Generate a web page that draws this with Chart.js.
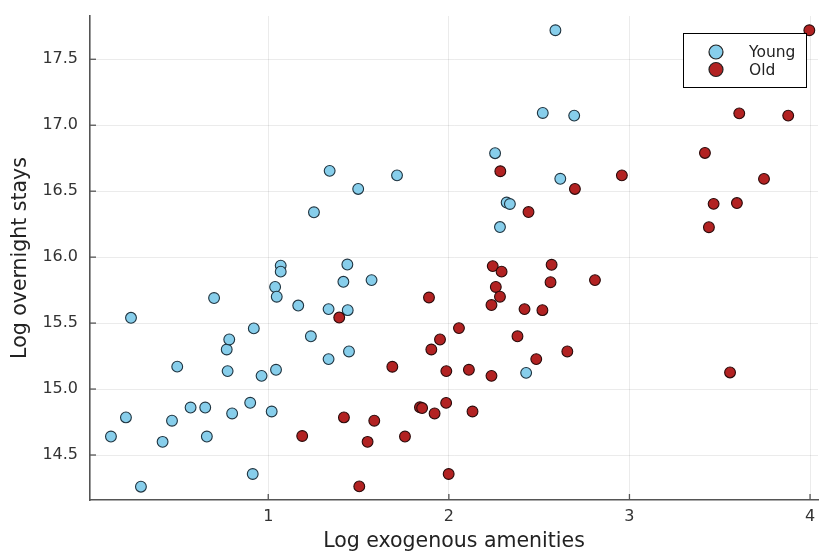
<!DOCTYPE html>
<html>
<head>
<meta charset="utf-8">
<script src="https://cdn.jsdelivr.net/npm/chart.js@4"></script>
<style>
  body { margin: 0; background: #fff; }
  #wrap { width: 820px; height: 551px; }
</style>
</head>
<body>
<div id="wrap"><canvas id="scatterChart"></canvas></div>
<script>
// Young group
const youngX = [0.129, 0.212, 0.24, 0.295, 0.415, 0.467, 0.496, 0.57, 0.651, 0.66,
    0.70, 0.77, 0.784, 0.775, 0.80, 0.90, 0.92, 0.914, 0.963, 1.019,
    1.043, 1.038, 1.047, 1.069, 1.069, 1.166, 1.334, 1.44, 1.416, 1.572,
    1.236, 1.334, 1.447, 2.428, 1.34, 1.498, 1.713, 1.253, 1.438, 2.256,
    2.32, 2.338, 2.283, 2.52, 2.59, 2.694, 2.617];
const youngY = [14.64, 14.785, 15.54, 14.26, 14.60, 14.76, 15.17, 14.86, 14.86, 14.64,
    15.69, 15.30, 15.376, 15.136, 14.815, 14.896, 15.46, 14.356, 15.10, 14.83,
    15.146, 15.774, 15.70, 15.936, 15.89, 15.633, 15.606, 15.598, 15.813, 15.826,
    15.40, 15.227, 15.285, 15.123, 16.654, 16.517, 16.62, 16.34, 15.944, 16.788,
    16.414, 16.403, 16.228, 17.093, 17.72, 17.073, 16.594];

// Old group
const oldX = [2.285, 2.441, 2.243, 2.292, 2.698, 2.958, 3.418, 3.608, 3.879, 3.745,
    3.466, 3.595, 3.44, 3.996, 2.569, 2.563, 2.809, 2.518, 2.656, 2.484,
    3.557, 1.89, 2.26, 2.283, 2.236, 2.419, 1.393, 2.056, 1.951, 1.903,
    2.38, 1.687, 1.986, 2.111, 2.236, 1.985, 1.84, 1.852, 1.921, 2.131,
    1.419, 1.587, 1.188, 1.55, 1.757, 1.999, 1.504];
const oldY = [16.651, 16.342, 15.932, 15.89, 16.517, 16.62, 16.79, 17.09, 17.073, 16.593,
    16.404, 16.41, 16.227, 17.72, 15.942, 15.81, 15.826, 15.598, 15.285, 15.227,
    15.126, 15.694, 15.774, 15.70, 15.637, 15.606, 15.542, 15.462, 15.376, 15.30,
    15.40, 15.169, 15.136, 15.146, 15.10, 14.895, 14.862, 14.856, 14.815, 14.83,
    14.785, 14.76, 14.644, 14.60, 14.64, 14.356, 14.262];

const xTicks = [1, 2, 3, 4];
const yTicks = [14.5, 15.0, 15.5, 16.0, 16.5, 17.0, 17.5];
const seriesNames = ['Young', 'Old'];

const toPoints = (xs, ys) => xs.map((x, i) => ({ x: x, y: ys[i] }));
const axisColor = '#555';
const fontFamily = '"DejaVu Sans", sans-serif';

// drop the extra room Chart.js keeps for edge labels
function zeroPadding(scale) {
    scale.paddingLeft = 0;
    scale.paddingRight = 0;
    scale.paddingTop = 0;
    scale.paddingBottom = 0;
}

// inward tick marks and boxed legend, like the original plot
const plotExtras = {
    id: 'plotExtras',
    afterDraw(chart) {
        const ctx = chart.ctx;
        const xs = chart.scales.x, ys = chart.scales.y;
        const area = chart.chartArea;
        ctx.save();
        ctx.strokeStyle = axisColor;
        ctx.lineWidth = 1.3;
        xTicks.forEach(v => {
            const px = xs.getPixelForValue(v);
            ctx.beginPath();
            ctx.moveTo(px, area.bottom);
            ctx.lineTo(px, area.bottom - 6);
            ctx.stroke();
        });
        yTicks.forEach(v => {
            const py = ys.getPixelForValue(v);
            ctx.beginPath();
            ctx.moveTo(area.left, py);
            ctx.lineTo(area.left + 6, py);
            ctx.stroke();
        });

        // legend
        const bx = area.right - 135, by = area.top + 17, bw = 123, bh = 54;
        ctx.fillStyle = '#fff';
        ctx.fillRect(bx, by, bw, bh);
        ctx.strokeStyle = '#000';
        ctx.lineWidth = 1;
        ctx.strokeRect(bx + 0.5, by + 0.5, bw, bh);
        ctx.font = '15.5px ' + fontFamily;
        ctx.textBaseline = 'middle';
        chart.data.datasets.forEach((ds, i) => {
            const cy = by + 19 + i * 17.5;
            ctx.beginPath();
            ctx.arc(bx + 33, cy, 7, 0, Math.PI * 2);
            ctx.fillStyle = ds.backgroundColor;
            ctx.fill();
            ctx.strokeStyle = '#222';
            ctx.lineWidth = 1.2;
            ctx.stroke();
            ctx.fillStyle = '#222';
            ctx.fillText(ds.label, bx + 66, cy + 1);
        });
        ctx.restore();
    }
};

const ctx = document.getElementById('scatterChart').getContext('2d');
new Chart(ctx, {
    type: 'scatter',
    data: {
        datasets: [{
            label: seriesNames[0],
            data: toPoints(youngX, youngY),
            backgroundColor: '#87CEEB',
            borderColor: '#1f3440',
            borderWidth: 1.1,
            pointRadius: 5.4,
            order: 1
        }, {
            label: seriesNames[1],
            data: toPoints(oldX, oldY),
            backgroundColor: '#B22222',
            borderColor: '#2a0a0a',
            borderWidth: 1.1,
            pointRadius: 5.4,
            order: 0
        }]
    },
    options: {
        responsive: true,
        maintainAspectRatio: false,
        animation: false,
        clip: false,
        layout: { autoPadding: false, padding: { top: 16, right: 2, left: 0, bottom: 0 } },
        plugins: {
            legend: { display: false },
            tooltip: { enabled: false }
        },
        scales: {
            x: {
                type: 'linear',
                min: 0.013,
                max: 4.044,
                afterFit: scale => { scale.height = 51; zeroPadding(scale); },
                afterBuildTicks: scale => { scale.ticks = xTicks.map(v => ({ value: v })); },
                grid: { color: 'rgba(0,0,0,0.08)', drawTicks: false },
                border: { display: true, color: axisColor, width: 1.6 },
                ticks: {
                    padding: 7,
                    color: '#333',
                    font: { family: fontFamily, size: 16 },
                    callback: v => String(v)
                },
                title: {
                    display: true,
                    text: 'Log exogenous amenities',
                    color: '#222',
                    font: { family: fontFamily, size: 20.5 },
                    padding: { top: 0, bottom: -3 }
                }
            },
            y: {
                type: 'linear',
                min: 14.159,
                max: 17.828,
                afterFit: scale => { scale.width = 90; zeroPadding(scale); },
                afterBuildTicks: scale => { scale.ticks = yTicks.map(v => ({ value: v })); },
                grid: { color: 'rgba(0,0,0,0.08)', drawTicks: false },
                border: { display: true, color: axisColor, width: 1.6 },
                ticks: {
                    padding: 12,
                    color: '#333',
                    font: { family: fontFamily, size: 16 },
                    callback: v => Number(v).toFixed(1)
                },
                title: {
                    display: true,
                    text: 'Log overnight stays',
                    color: '#222',
                    font: { family: fontFamily, size: 20.5 },
                    padding: { top: 8, bottom: 0 }
                }
            }
        }
    },
    plugins: [plotExtras]
});
</script>
</body>
</html>
